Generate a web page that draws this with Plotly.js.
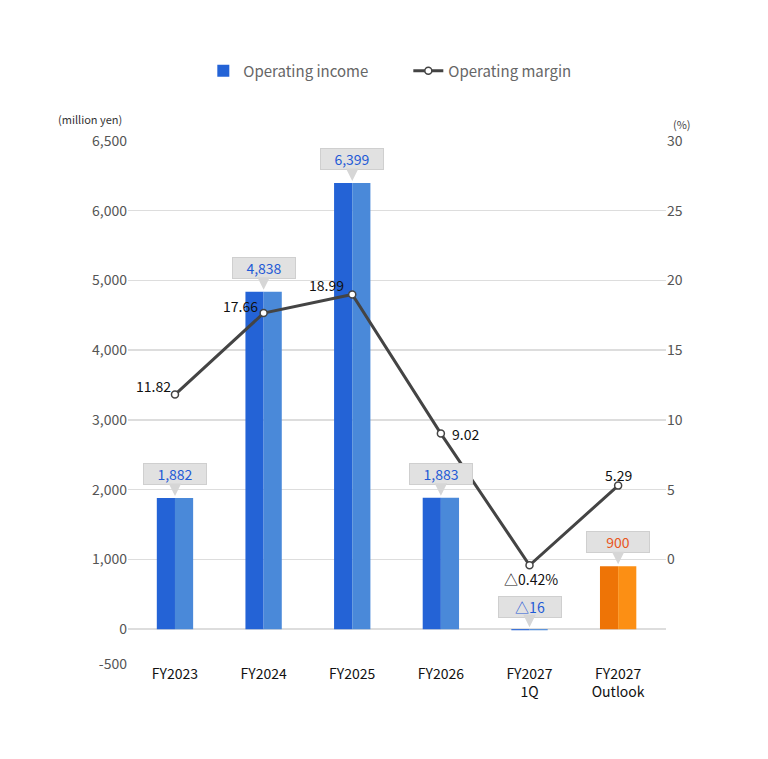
<!DOCTYPE html>
<html>
<head>
<meta charset="utf-8">
<script src="https://cdn.plot.ly/plotly-3.0.1.min.js"></script>
<style>
  html, body { margin: 0; padding: 0; background: #fff; }
</style>
</head>
<body>
<div id="chart" style="width:768px;height:759px;"></div>
<script>
// data
var categories = ['FY2023', 'FY2024', 'FY2025', 'FY2026', 'FY2027<br>1Q', 'FY2027<br>Outlook'];
var income = [1882, 4838, 6399, 1883, -16, 900];          // million yen
var margin = [11.82, 17.66, 18.99, 9.02, -0.42, 5.29];     // %
var outlook = [false, false, false, false, false, true];
var leftTicks = [-500, 0, 1000, 2000, 3000, 4000, 5000, 6000, 7000];
var leftTickText = ['-500', '0', '1,000', '2,000', '3,000', '4,000', '5,000', '6,000', '6,500'];
var rightTicks = [0, 5, 10, 15, 20, 25, 30];

var FONT = '"Noto Sans CJK JP", "Noto Sans", sans-serif';
var halfW = 0.205;

// where each margin label sits relative to its point (pixels)
var labelPos = [
    { xa: 'right', dx: -2, dy: 9 },
    { xa: 'right', dx: -4, dy: 7 },
    { xa: 'right', dx: -6, dy: 10 },
    { xa: 'left', dx: 9, dy: 0 },
    { xa: 'center', dx: 1, dy: -14 },
    { xa: 'center', dx: 0, dy: 11 }
];

function fmtIncome(v) {
    var s = Math.abs(v).toLocaleString('en-US');
    return v < 0 ? '\u25B3' + s : s;
}
function fmtMargin(v) {
    return v < 0 ? '\u25B3' + Math.abs(v).toFixed(2) + '%' : v.toFixed(2);
}

var leftColors = outlook.map(o => o ? '#ee7406' : '#2463d6');
var rightColors = outlook.map(o => o ? '#fc8f14' : '#4a89d9');

var barLeft = {
    x: categories, y: income, type: 'bar', name: 'Operating income',
    offset: -halfW, width: halfW,
    marker: { color: leftColors, line: { width: 0 } }
};
var barRight = {
    x: categories, y: income, type: 'bar', showlegend: false,
    offset: 0, width: halfW,
    marker: { color: rightColors, line: { width: 0 } }
};
var line = {
    x: categories, y: margin, yaxis: 'y2', type: 'scatter',
    mode: 'lines+markers', name: 'Operating margin',
    line: { color: '#444444', width: 3 },
    marker: { size: 7, color: '#ffffff', line: { color: '#444444', width: 1.5 } }
};

var annotations = [];
income.forEach(function (v, i) {
    var gap = v < 0 ? 11 : 13;
    // value box
    annotations.push({
        x: categories[i], y: Math.max(v, 0), xref: 'x', yref: 'y',
        text: fmtIncome(v), showarrow: false,
        yanchor: 'bottom', yshift: gap,
        width: 60, height: 18,
        bgcolor: '#e1e1e1', bordercolor: '#cfcfcf', borderwidth: 1,
        font: { family: FONT, size: 14, color: outlook[i] ? '#e8561c' : '#1f5ad6' }
    });
    // little pointer under the box (arrow only, no text)
    annotations.push({
        x: categories[i], y: Math.max(v, 0), xref: 'x', yref: 'y',
        text: '', showarrow: true, arrowhead: 2, arrowsize: 1, arrowwidth: 2.5,
        arrowcolor: '#d6d6d6', standoff: 2,
        ax: 0, ay: -gap - 1
    });
});
margin.forEach(function (v, i) {
    annotations.push({
        x: categories[i], y: v, xref: 'x', yref: 'y2',
        text: fmtMargin(v), showarrow: false,
        xanchor: labelPos[i].xa, yanchor: 'middle',
        xshift: labelPos[i].dx, yshift: labelPos[i].dy,
        font: { family: FONT, size: 14, color: '#111111' }
    });
});
annotations.push({
    xref: 'paper', yref: 'paper', x: -0.008, y: 1.042,
    xanchor: 'right', yanchor: 'middle', showarrow: false,
    text: '(million yen)', font: { family: FONT, size: 11, color: '#333' }
});
annotations.push({
    xref: 'paper', yref: 'paper', x: 1.01, y: 1.033,
    xanchor: 'left', yanchor: 'middle', showarrow: false,
    text: '(%)', font: { family: FONT, size: 11, color: '#444' }
});

var layout = {
    width: 768, height: 759,
    margin: { l: 128, r: 102, t: 141, b: 95 },
    paper_bgcolor: '#ffffff', plot_bgcolor: '#ffffff',
    font: { family: FONT, size: 14, color: '#555555' },
    barmode: 'overlay',
    showlegend: true,
    legend: {
        orientation: 'h', x: 0.14, xanchor: 'left', y: 1.134, yanchor: 'middle',
        font: { family: FONT, size: 15, color: '#666666' },
        entrywidth: 160, entrywidthmode: 'pixels',
        traceorder: 'normal'
    },
    xaxis: {
        type: 'category', range: [-0.53, 5.54],
        showgrid: false, showline: false, zeroline: false, ticks: '',
        tickfont: { family: FONT, size: 14, color: '#111111' }
    },
    yaxis: {
        range: [-500, 7000], tickvals: leftTicks, ticktext: leftTickText,
        showgrid: true, gridcolor: '#dddddd', gridwidth: 1.5,
        zeroline: false, showline: false, ticks: '',
        tickfont: { family: FONT, size: 14, color: '#555555' }
    },
    yaxis2: {
        overlaying: 'y', side: 'right', range: [-7.5, 30], tickvals: rightTicks,
        showgrid: false, zeroline: false, showline: false,
        tickfont: { family: FONT, size: 14, color: '#555555' }
    },
    annotations: annotations,
    hovermode: false
};

Plotly.newPlot('chart', [barLeft, barRight, line], layout, { displayModeBar: false, staticPlot: true });
</script>
</body>
</html>
